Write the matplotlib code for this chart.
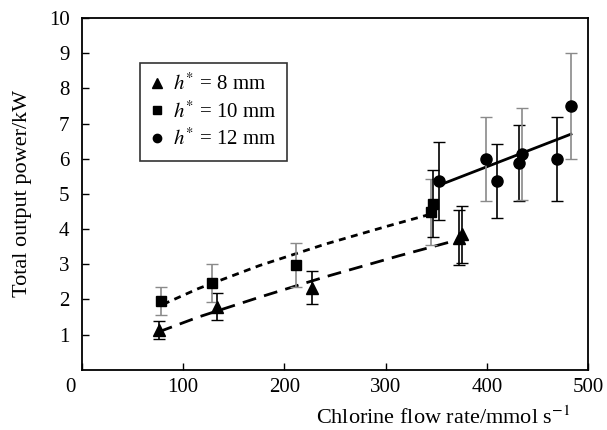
import matplotlib
matplotlib.use("Agg")
import matplotlib.pyplot as plt
import matplotlib.transforms as mtransforms
import numpy as np

# h* = 8 mm (triangles)
x8 = [76, 133, 227, 372, 375]
y8 = [1.14, 1.79, 2.33, 3.75, 3.85]
e8 = [0.26, 0.38, 0.47, 0.78, 0.80]

# h* = 10 mm (squares)
x10 = [78, 128, 211, 345, 347]
y10 = [1.95, 2.47, 2.98, 4.49, 4.72]
e10 = [0.40, 0.53, 0.62, 0.93, 0.95]

# h* = 12 mm (circles)
x12 = [353, 399, 410, 432, 435, 469, 483]
y12 = [5.37, 6.0, 5.37, 5.88, 6.14, 6.0, 7.5]
e12 = [1.1, 1.2, 1.05, 1.07, 1.3, 1.2, 1.5]

# fitted trend lines
fit8_x = [76, 115, 175, 240, 313, 372]
fit8_y = [1.08, 1.50, 2.06, 2.64, 3.24, 3.70]
fit10_x = [80, 115, 175, 240, 300, 345]
fit10_y = [1.86, 2.31, 2.96, 3.57, 4.07, 4.43]
fit12_x = [353, 483]
fit12_y = [5.25, 6.7]

labels = [r"$h^{*}$ = 8 mm", r"$h^{*}$ = 10 mm", r"$h^{*}$ = 12 mm"]

GREY = "#8a8a8a"
ec8 = ["k", "k", "k", "k", "k"]
ec10 = [GREY, GREY, GREY, GREY, "k"]
ec12 = ["k", GREY, "k", "k", GREY, "k", GREY]

plt.rcParams["font.family"] = ["Liberation Serif", "DejaVu Serif"]
plt.rcParams["mathtext.fontset"] = "stix"

fig = plt.figure(figsize=(6.07, 4.30), dpi=100)
ax = fig.add_axes([0.135, 0.14, 0.834, 0.818])

def draw(xs, ys, es, ecs, marker, ms):
    for x, y, e, c in zip(xs, ys, es, ecs):
        ax.errorbar(x, y, yerr=e, fmt="none", ecolor=c, elinewidth=1.2,
                    capsize=4, capthick=1.0, zorder=2)
    ax.plot(xs, ys, linestyle="none", marker=marker, color="k", ms=ms, zorder=3)

ax.plot(fit8_x, fit8_y, color="k", lw=2.0, dashes=(5, 3), zorder=1)
ax.plot(fit10_x, fit10_y, color="k", lw=2.0, dashes=(2.5, 2), zorder=1)
ax.plot(fit12_x, fit12_y, color="k", lw=2.0, zorder=1)

draw(x8, y8, e8, ec8, "^", 8.5)
draw(x10, y10, e10, ec10, "s", 7.5)
draw(x12, y12, e12, ec12, "o", 8)

ax.set_xlim(0, 500)
ax.set_ylim(0, 10)
ax.set_xticks([0, 100, 200, 300, 400, 500])
ax.set_yticks(range(1, 11))
ax.tick_params(direction="in", length=5, width=1, labelsize=15,
               top=False, right=False)
ax.tick_params(axis="x", pad=6)
ax.tick_params(axis="y", pad=9)
for s in ax.spines.values():
    s.set_linewidth(1.3)

# shift the "0" x tick label left, as in the original
lbl0 = ax.get_xticklabels()[0]
lbl0.set_transform(lbl0.get_transform() +
                   mtransforms.ScaledTranslation(-12 / 100, 0, fig.dpi_scale_trans))

ax.set_xlabel(r"Chlorine flow rate/mmol s$^{-1}$", fontsize=16)
ax.xaxis.set_label_coords(0.713, -0.105)
ax.set_ylabel("Total output power/kW", fontsize=16, labelpad=12)

handles = [
    plt.Line2D([], [], linestyle="none", marker="^", color="k", ms=7),
    plt.Line2D([], [], linestyle="none", marker="s", color="k", ms=6),
    plt.Line2D([], [], linestyle="none", marker="o", color="k", ms=6),
]
leg = ax.legend(handles, labels, loc="upper left", bbox_to_anchor=(0.115, 0.872),
                borderaxespad=0, fontsize=15, frameon=True, fancybox=False,
                edgecolor="k", handlelength=0.6, handletextpad=0.5,
                borderpad=0.5, labelspacing=0.3)
leg.get_frame().set_linewidth(1.2)

fig.savefig("out.png", dpi=100)
